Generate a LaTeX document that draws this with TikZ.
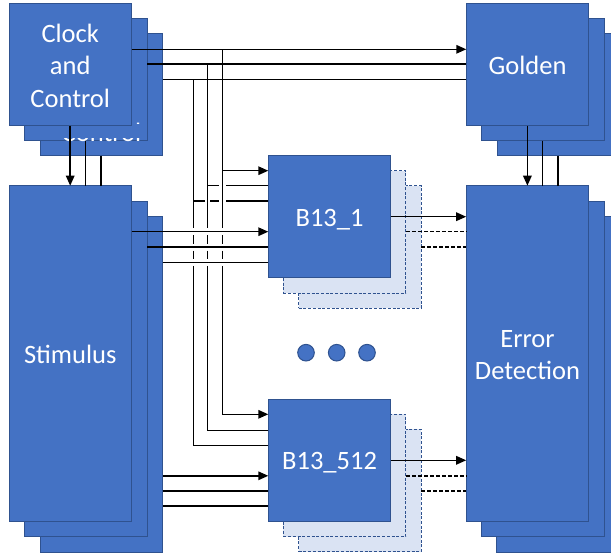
\documentclass[tikz,border=0pt]{standalone}
\usepackage{fontspec}
\setmainfont{Carlito}
\usetikzlibrary{arrows.meta}
\definecolor{boxfill}{HTML}{4472C4}
\definecolor{boxline}{HTML}{2F528F}
\definecolor{ghostfill}{HTML}{DAE3F3}
\begin{document}
\begin{tikzpicture}[x=1pt,y=-1pt,
  blk/.style={draw=boxline, fill=boxfill, line width=1pt, inner sep=0pt, outer sep=0pt,
    anchor=north west},
  lbl/.style={text=white, align=center, inner sep=0pt, font=\fontsize{26.5}{32.2}\selectfont},
  ghost/.style={draw=boxline, fill=ghostfill, line width=1pt, dash pattern=on 3pt off 1.7pt,
    inner sep=0pt, outer sep=0pt, anchor=north west},
  sq/.style={minimum width=122.5pt, minimum height=122.5pt},
  tall/.style={minimum width=122.5pt, minimum height=335.3pt},
  wire/.style={line width=1.5pt, black},
  arr/.style={wire, -{Triangle[length=10pt,width=8.5pt]}},
  dwire/.style={wire, dash pattern=on 4pt off 2pt},
  dot/.style={circle, draw=boxline, fill=boxfill, line width=1pt, minimum size=16.6pt, inner sep=0pt}]
\useasboundingbox (0,0) rectangle (611,554);

% Clock and Control stack
\node[blk, sq] (clk3) at (40.3,33.3) {};
\node[blk, sq] (clk2) at (24.6,18.2) {};
\node[lbl, anchor=base] (clkghost) at (101.5,141.6) {Control};
\fill[boxfill] (25.3,124) rectangle (146.4,137.8);
\node[blk, sq] (clk) at (9,3) {};
\node[lbl] (clklbl) at ([yshift=-1.5pt]clk.center) {Clock\\and\\Control};

% Golden stack
\node[blk, sq] (gold3) at (497.3,33.3) {};
\node[blk, sq] (gold2) at (481.7,18.2) {};
\node[blk, sq] (gold) at (466.3,3) {};
\node[lbl] (goldlbl) at ([yshift=-1pt]gold.center) {Golden};

% Stimulus stack
\node[blk, tall] (stim3) at (40.3,216.7) {};
\node[blk, tall] (stim2) at (24.6,201.2) {};
\node[blk, tall] (stim) at (9,185.7) {};
\node[lbl] (stimlbl) at ([yshift=-1.2pt]stim.center) {Stimulus};

% Error Detection stack
\node[blk, tall] (err3) at (496.8,216.7) {};
\node[blk, tall] (err2) at (481.6,201.2) {};
\node[blk, tall] (err) at (466.2,185.7) {};
\node[lbl] (errlbl) at ([yshift=-1.8pt]err.center) {Error\\Detection};

% B13_1 stack
\node[ghost, sq] (ba3) at (298.7,185.5) {};
\node[ghost, sq] (ba2) at (283.4,170.6) {};
\node[blk, sq, minimum height=122pt] (ba) at (268.3,155.7) {};
\node[lbl, anchor=base] (balbl) at ([yshift=-9.5pt]ba.center) {B13\_1};

% B13_512 stack
\node[ghost, sq] (bb3) at (298.7,429.3) {};
\node[ghost, sq] (bb2) at (283.4,414.3) {};
\node[blk, sq, minimum height=122.3pt] (bb) at (268.3,399.3) {};
\node[lbl, anchor=base] (bblbl) at ([yshift=-9.5pt]bb.center) {B13\_512};

% dots
\node[dot] (d1) at (306,352.7) {};
\node[dot] (d2) at (336.7,352.7) {};
\node[dot] (d3) at (367,352.7) {};

% Clock -> Stimulus
\draw[arr] (clk.south -| 70.2,0) -- (stim.north -| 70.2,0);
\draw[wire] (clk2.south -| 85.7,0) -- (stim.north -| 85.7,0);
\draw[wire] (clk3.south -| 100.9,0) -- (stim.north -| 100.9,0);

% Golden -> Error detection
\draw[arr] (gold.south -| 527.4,0) -- (err.north -| 527.4,0);
\draw[wire] (gold2.south -| 542.7,0) -- (err.north -| 542.7,0);
\draw[wire] (gold3.south -| 557.8,0) -- (err.north -| 557.8,0);

% Clock -> Golden
\draw[arr] (clk.east |- 0,49.3) -- (gold.west |- 0,49.3);
\draw[wire] (clk2.east |- 0,64.2) -- (gold.west |- 0,64.2);
\draw[wire] (clk3.east |- 0,79.3) -- (gold.west |- 0,79.3);

% Junction coordinates
\coordinate (j1) at (222.7,49.3);
\coordinate (j2) at (207.7,64.2);
\coordinate (j3) at (193.3,79.3);

% Vertical bus 1 (x = 222.7)
\draw[wire] (j1) -- (222.7,228.2);
\draw[wire] (222.7,235.2) -- (222.7,243.5);
\draw[wire] (222.7,250.5) -- (222.7,258.8);
\draw[arr] (222.7,265.8) -- (222.7,414.3) -- (bb.west |- 0,414.3);
\draw[arr] (222.7,170.7) -- (ba.west |- 0,170.7);

% Vertical bus 2 (x = 207.7)
\draw[wire] (j2) -- (207.7,228.2);
\draw[wire] (207.7,235.2) -- (207.7,243.5);
\draw[wire] (207.7,250.5) -- (207.7,258.8);
\draw[wire] (207.7,265.8) -- (207.7,430.3) -- (bb.west |- 0,430.3);
\draw[wire] (207.7,185.7) -- (219.3,185.7);
\draw[wire] (226.1,185.7) -- (ba.west |- 0,185.7);

% Vertical bus 3 (x = 193.3)
\draw[wire] (j3) -- (193.3,228.2);
\draw[wire] (193.3,235.2) -- (193.3,243.5);
\draw[wire] (193.3,250.5) -- (193.3,258.8);
\draw[wire] (193.3,265.8) -- (193.3,445.7) -- (bb.west |- 0,445.7);
\draw[wire] (193.3,201) -- (204.6,201);
\draw[wire] (210.2,201) -- (219.3,201);
\draw[wire] (226.1,201) -- (ba.west |- 0,201);

% Stimulus -> B13_1
\draw[arr] (stim.east |- 0,231.7) -- (ba.west |- 0,231.7);
\draw[wire] (stim2.east |- 0,247) -- (ba.west |- 0,247);
\draw[wire] (stim3.east |- 0,262.3) -- (ba.west |- 0,262.3);

% Stimulus -> B13_512
\draw[arr] (stim3.east |- 0,475.8) -- (bb.west |- 0,475.8);
\draw[wire] (stim3.east |- 0,491) -- (bb.west |- 0,491);
\draw[wire] (stim3.east |- 0,506.1) -- (bb.west |- 0,506.1);

% B13_1 -> Error detection
\draw[arr] (ba.east |- 0,216.7) -- (err.west |- 0,216.7);
\draw[dwire] (ba2.east |- 0,231.7) -- (err.west |- 0,231.7);
\draw[dwire] (ba3.east |- 0,247) -- (err.west |- 0,247);

% B13_512 -> Error detection
\draw[arr] (bb.east |- 0,460.3) -- (err.west |- 0,460.3);
\draw[dwire] (bb2.east |- 0,475.8) -- (err.west |- 0,475.8);
\draw[dwire] (bb3.east |- 0,491) -- (err.west |- 0,491);
\end{tikzpicture}
\end{document}
